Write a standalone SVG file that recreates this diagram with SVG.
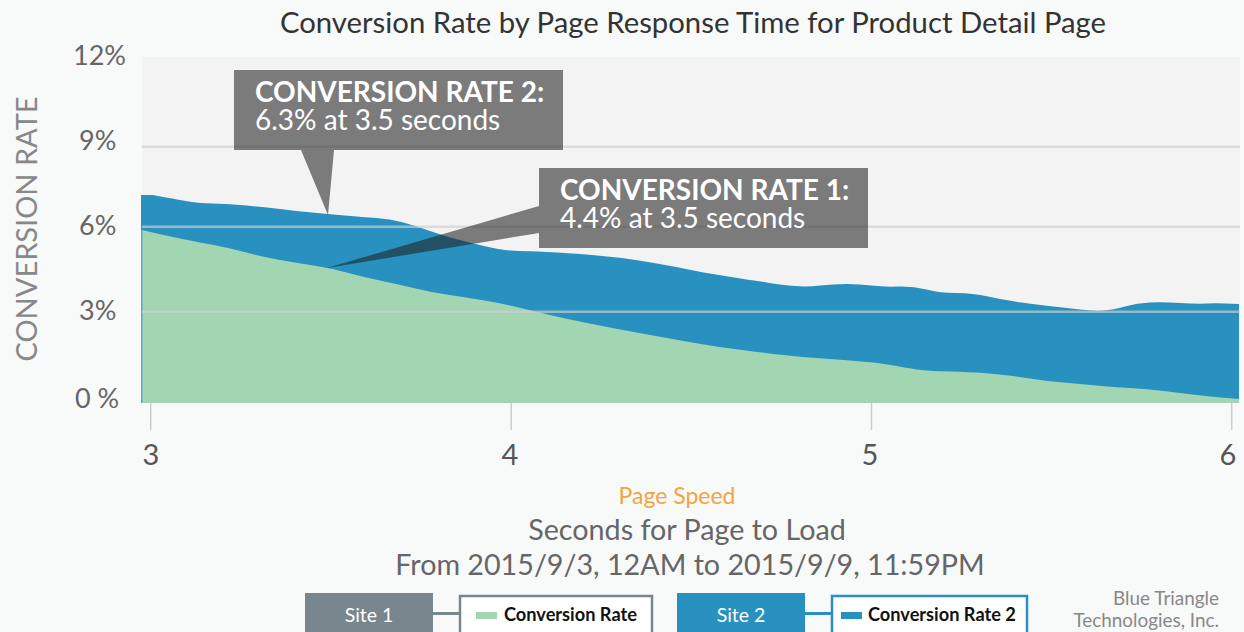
<svg xmlns="http://www.w3.org/2000/svg" width="1244" height="632" viewBox="0 0 1244 632">
<style>
text{font-family:Lato,"Liberation Sans",sans-serif}
.ylab{font-size:27px;fill:#666}
.xlab{font-size:29px;fill:#555;text-anchor:middle}
.grid{stroke:#d0d0d0;stroke-width:2.5;opacity:0.65}
.tick{stroke:#cccccc;stroke-width:1.5}
.callout{fill:#221f20;fill-opacity:0.57}
.cb{font-size:28px;font-weight:bold;fill:#fff}
.cr{font-size:28px;fill:#fff}
.sub{font-size:28.7px;fill:#666;text-anchor:middle}
.site{font-size:19.5px;fill:#fff;text-anchor:middle}
.leg{font-size:18.2px;font-weight:bold;fill:#111}
.credit{font-size:18.9px;fill:#888;text-anchor:end}
</style>
<rect x="0" y="0" width="1244" height="632" fill="#f8f9f9"/>
<text x="693" y="33" text-anchor="middle" font-size="29.3" fill="#333">Conversion Rate by Page Response Time for Product Detail Page</text>

<g id="plot">
<rect x="142" y="57" width="1098" height="346" fill="#f3f3f3"/>
<path id="area2" fill="#2891c0" d="M141,403 L141,195 L153,195 Q175,199 186,201 Q197,203 213.5,203.5 Q230,204 246.5,205.5 Q263,207 280,209 Q297,211 312,212.5 Q327,214 345,215.5 Q363,217 376.5,218 Q390,219 401.5,222 Q413,225 430,231 Q447,237 463.5,241 Q480,245 488.5,247 Q497,249 505,250 Q513,251 520,251 Q527,251 547,252 Q567,253 592,255 Q617,257 642,261 Q667,265 683.5,268.5 Q700,272 725,276 Q750,280 766.5,282.5 Q783,285 795,286 Q807,287 820,285.5 Q833,284 846.5,284 Q860,284 871.5,285.5 Q883,287 898,286.5 Q913,286 926.5,289.5 Q940,293 956.5,293 Q973,293 988,296.5 Q1003,300 1021.5,302.5 Q1040,305 1053.5,306.5 Q1067,308 1080,309.5 Q1093,311 1103,310.5 Q1113,310 1125,306.5 Q1137,303 1150,302.5 Q1163,302 1180,303 Q1197,304 1207,303.5 Q1217,303 1239,304 L1239,403 Z"/>
<path id="area1" fill="#a2d5b2" d="M142,403 L142,230 Q163,235 180,238.5 Q197,242 213.5,245 Q230,248 246.5,252.5 Q263,257 280,260 Q297,263 313.5,265.5 Q330,268 346.5,272.5 Q363,277 380,280.5 Q397,284 413.5,288 Q430,292 446.5,294.5 Q463,297 481.5,300 Q500,303 516.5,307 Q533,311 550,315 Q567,319 592,324 Q617,329 642,333.5 Q667,338 692,342.5 Q717,347 742,350 Q767,353 783.5,355 Q800,357 816.5,358 Q833,359 850,360.5 Q867,362 873.5,362.5 Q880,363 896.5,366 Q913,369 921.5,370 Q930,371 950,371.5 Q970,372 983.5,373 Q997,374 1008.5,375.5 Q1020,377 1033.5,379 Q1047,381 1063.5,382.5 Q1080,384 1096.5,385.5 Q1113,387 1130,388 Q1147,389 1163.5,391 Q1180,393 1196.5,395 Q1213,397 1239,399 L1239,403 Z"/>
<line x1="142" y1="230" x2="142" y2="403" stroke="#6fb3c9" stroke-width="1.5"/>
<line class="grid" x1="142" y1="146.7" x2="1240" y2="146.7"/>
<line class="grid" x1="142" y1="226.7" x2="1240" y2="226.7"/>
<line class="grid" x1="142" y1="311.7" x2="1240" y2="311.7"/>
<line class="tick" x1="150.7" y1="403" x2="150.7" y2="430"/>
<line class="tick" x1="511.2" y1="403" x2="511.2" y2="430"/>
<line class="tick" x1="871.5" y1="403" x2="871.5" y2="430"/>
<line class="tick" x1="1231.7" y1="403" x2="1231.7" y2="430"/>
</g>

<g id="axes">
<text class="ylab" x="73" y="65">12%</text>
<text class="ylab" x="79" y="150">9%</text>
<text class="ylab" x="79" y="235">6%</text>
<text class="ylab" x="79" y="320">3%</text>
<text class="ylab" x="75" y="408">0 %</text>
<text transform="translate(37,229) rotate(-90)" text-anchor="middle" font-size="29" fill="#888">CONVERSION RATE</text>
<text class="xlab" x="151" y="465">3</text>
<text class="xlab" x="510" y="465">4</text>
<text class="xlab" x="870" y="465">5</text>
<text class="xlab" x="1228" y="465">6</text>
<text x="677" y="504" text-anchor="middle" font-size="23" fill="#f5a341">Page Speed</text>
<text class="sub" x="687" y="540">Seconds for Page to Load</text>
<text class="sub" x="690" y="575">From 2015/9/3, 12AM to 2015/9/9, 11:59PM</text>
</g>

<g id="callout2">
<path class="callout" d="M234,70 H563 V150 H334 L328,215 L301,150 H234 Z"/>
<text class="cb" x="255" y="102">CONVERSION RATE 2:</text>
<text class="cr" x="255" y="130">6.3% at 3.5 seconds</text>
</g>
<g id="callout1">
<path class="callout" d="M539,168 H868 V248 H539 V233 L327,268 L539,206 Z"/>
<text class="cb" x="560" y="200">CONVERSION RATE 1:</text>
<text class="cr" x="560" y="228">4.4% at 3.5 seconds</text>
</g>

<g id="connectors">
<line x1="432" y1="613.5" x2="460" y2="613.5" stroke="#78878e" stroke-width="3"/>
<line x1="804" y1="613.5" x2="832" y2="613.5" stroke="#2891c0" stroke-width="3"/>
</g>
<g id="site1">
<rect x="305" y="593" width="128" height="42" fill="#78878e"/>
<text class="site" x="369" y="622">Site 1</text>
</g>
<g id="legend1">
<rect x="460" y="596" width="192" height="40" fill="#ffffff" stroke="#78878e" stroke-width="2.5"/>
<rect x="476" y="612" width="21" height="7" fill="#a2d5b2"/>
<text class="leg" x="504" y="621">Conversion Rate</text>
</g>
<g id="site2">
<rect x="677" y="593" width="128" height="42" fill="#2891c0"/>
<text class="site" x="741" y="622">Site 2</text>
</g>
<g id="legend2">
<rect x="832" y="596" width="195" height="40" fill="#ffffff" stroke="#2891c0" stroke-width="2.5"/>
<rect x="841" y="612" width="21" height="7" fill="#2891c0"/>
<text class="leg" x="868" y="621">Conversion Rate 2</text>
</g>
<g id="credit">
<text class="credit" x="1219" y="605">Blue Triangle</text>
<text class="credit" x="1219" y="627">Technologies, Inc.</text>
</g>
</svg>
